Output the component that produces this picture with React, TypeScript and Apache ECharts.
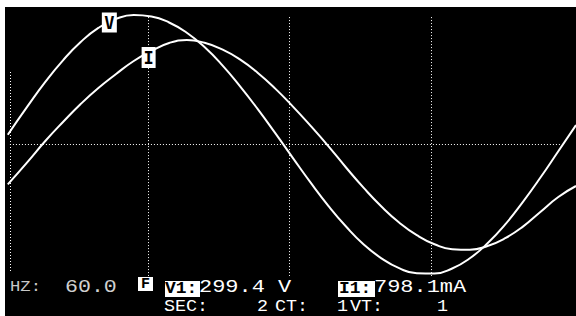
import React, { useEffect, useRef } from "react";
import * as echarts from "echarts";

// time in ms (4 ms per grid division)
const times = [-0.06, 0.5, 1, 1.5, 2, 2.5, 3, 3.5, 4, 4.5, 5, 5.5, 6, 6.5, 7, 7.5, 8, 8.5, 9, 9.5, 10, 10.5, 11, 11.5, 12, 12.5, 13, 13.5, 14, 14.5, 15, 15.5, 16];
// voltage waveform (V)
const voltage = [31, 126, 207, 279, 340, 387, 417, 430, 425, 405, 371, 323, 263, 193, 117, 36, -47, -129, -206, -275, -335, -381, -414, -431, -432, -415, -381, -331, -268, -193, -111, -24, 63];
// current waveform (mA)
const current = [-404, -178, 30, 220, 400, 560, 700, 830, 930, 1010, 1040, 1012, 946, 846, 713, 554, 374, 181, -21, -235, -439, -625, -785, -912, -1003, -1052, -1057, -1020, -942, -826, -677, -530, -420];

const gridTimes = [3.9, 7.9, 11.9];
const firstGridTime = 0;
const zeroLineEnd = 15.58;

const hzLabel = "HZ:";
const hzValue = "60.0";
const vLabel = "V1:";
const vValue = "299.4 V";
const iLabel = "I1:";
const iValue = "798.1mA";

const FONT = '"Liberation Mono", "DejaVu Sans Mono", monospace';

export default function App() {
  const ref = useRef<HTMLDivElement>(null);
  useEffect(() => {
    if (!ref.current) return;
    const chart = echarts.init(ref.current, null, { renderer: "svg" });
    const dotted = { color: "#fff", width: 1, type: [1, 2] as any };
    const txt = (
      text: string,
      x: number,
      y: number,
      size: number,
      sx = 1,
      fill = "#fff",
      weight = "normal",
      align = "left"
    ) => ({
      type: "text",
      x,
      y,
      scaleX: sx,
      z: 20,
      style: {
        text,
        fill,
        font: `${weight} ${size}px ${FONT}`,
        align,
        textAlign: align,
        verticalAlign: "middle",
        textVerticalAlign: "middle",
      },
    });
    const box = (x: number, y: number, w: number, h: number) => ({
      type: "rect",
      z: 15,
      shape: { x, y, width: w, height: h },
      style: { fill: "#fff" },
    });
    chart.setOption({
      animation: false,
      backgroundColor: "#fff",
      grid: { left: 2.85, width: 579.15, top: 9, height: 270 },
      xAxis: { type: "value", min: -0.2, max: 16, show: false },
      yAxis: [
        { type: "value", min: -450, max: 450, show: false },
        { type: "value", min: -1350, max: 1350, show: false },
      ],
      graphic: [
        {
          type: "rect",
          z: -10,
          shape: { x: 5, y: 7, width: 571, height: 309 },
          style: { fill: "#000" },
        },
        txt(hzLabel, 10, 287, 15, 1.15, "#c8c8c8"),
        txt(hzValue, 65, 287, 18, 1.2, "#d0d0d0"),
        box(138, 277, 15, 14),
        txt("F", 145.5, 284.5, 15, 1, "#000", "bold", "center"),
        box(165, 281, 35, 16),
        txt(vLabel, 165, 288.5, 16, 1.12, "#000", "bold"),
        txt(vValue, 199, 287.5, 18, 1.22),
        box(338, 281, 37, 16),
        txt(iLabel, 339, 288.5, 16, 1.12, "#000", "bold"),
        txt(iValue, 374, 287.5, 18, 1.22),
        txt("SEC:", 164, 306.5, 16, 1.15),
        txt("2", 257, 306.5, 16, 1.15),
        txt("CT:", 275, 306.5, 16, 1.15),
        txt("1", 337, 306.5, 16, 1.15),
        txt("VT:", 350, 306.5, 16, 1.15),
        txt("1", 437, 306.5, 16, 1.15),
      ],
      series: [
        {
          type: "line",
          yAxisIndex: 0,
          data: times.map((t, i) => [t, voltage[i]]),
          smooth: true,
          symbol: "none",
          clip: false,
          lineStyle: { color: "#fff", width: 2 },
          markLine: {
            silent: true,
            symbol: ["none", "none"],
            label: { show: false },
            lineStyle: dotted,
            data: [
              [{ coord: [firstGridTime, 240] }, { coord: [firstGridTime, -427] }],
              ...gridTimes.map((t) => [{ coord: [t, 423] }, { coord: [t, -440] }]),
              [{ coord: [firstGridTime, 0] }, { coord: [zeroLineEnd, 0] }],
            ],
          },
          markPoint: {
            symbol: "rect",
            symbolSize: [15, 20],
            itemStyle: { color: "#fff" },
            label: { show: true, formatter: "V", color: "#000", fontSize: 17, fontWeight: "bold", fontFamily: "DejaVu Sans Mono" },
            data: [{ coord: [2.81, 405] }],
          },
        },
        {
          type: "line",
          yAxisIndex: 1,
          data: times.map((t, i) => [t, current[i]]),
          smooth: true,
          symbol: "none",
          clip: false,
          lineStyle: { color: "#fff", width: 2 },
          markPoint: {
            symbol: "rect",
            symbolSize: [14, 21],
            itemStyle: { color: "#fff" },
            label: { show: true, formatter: "I", color: "#000", fontSize: 17, fontWeight: "bold", fontFamily: "DejaVu Sans Mono" },
            data: [{ coord: [3.92, 865] }],
          },
        },
      ],
    });
    return () => chart.dispose();
  }, []);
  return <div ref={ref} style={{ position: "absolute", left: 0, top: 0, width: 576, height: 316 }} />;
}
